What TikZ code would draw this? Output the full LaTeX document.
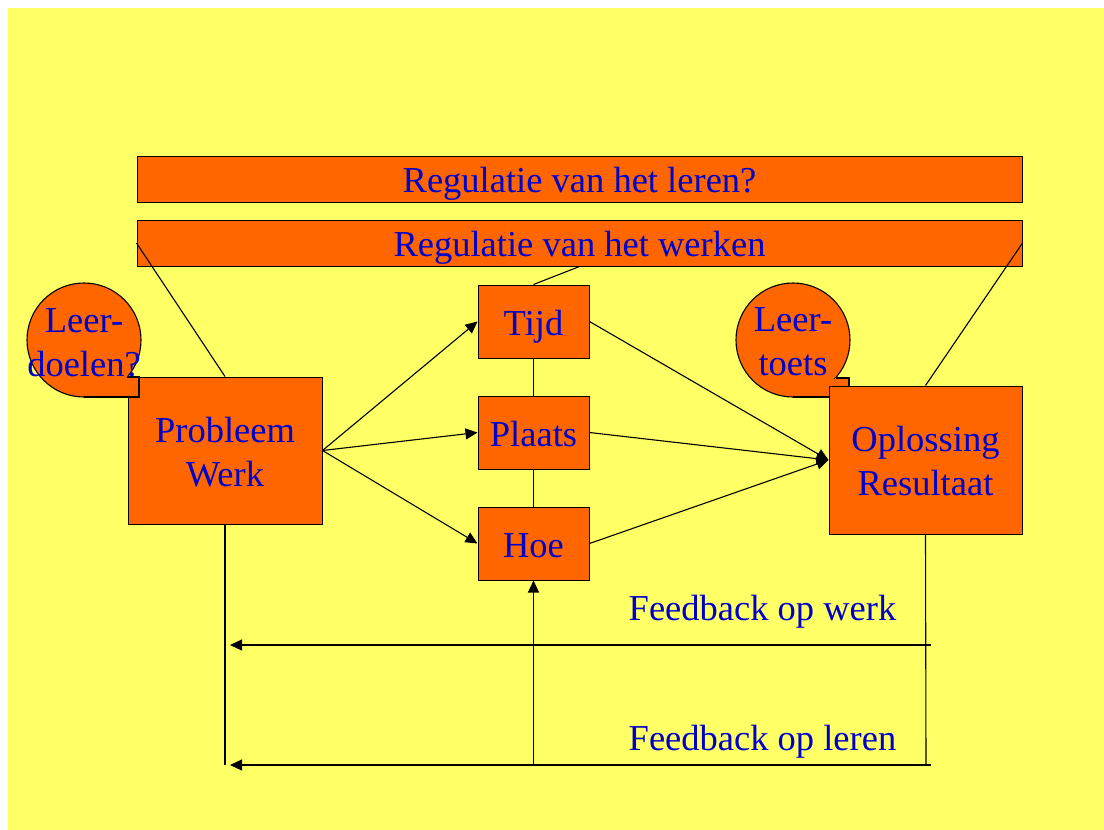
\documentclass[tikz,border=0pt]{standalone}
\usepackage{fontspec}
\setmainfont{Liberation Serif}
\usetikzlibrary{arrows.meta}
\definecolor{bgyellow}{HTML}{FFFF66}
\definecolor{boxorange}{HTML}{FF6600}
\definecolor{txtblue}{HTML}{0000CC}
\begin{document}
\begin{tikzpicture}[x=1pt,y=-1pt,
  every node/.style={font=\fontsize{36.5}{44}\selectfont, text=txtblue, align=center, inner sep=0pt},
  obox/.style={draw=black, line width=1pt, fill=boxorange},
  oneline/.style={text height=33pt, text depth=6pt},
  conn/.style={draw=black, line width=1.1pt},
  arr/.style={conn, -{Triangle[length=12pt,width=11pt]}},
  bubble/.style={draw=black, line width=1.1pt, fill=boxorange}]
\useasboundingbox (0,0) rectangle (1104,830);
\fill[white] (0,0) rectangle (1104,830);
\fill[bgyellow] (8,8) rectangle (1104,830);
% bars
\node[obox, oneline, minimum width=885pt, minimum height=46pt] (bar1) at (579.5,179) {Regulatie van het leren?};
\node[obox, oneline, minimum width=885pt, minimum height=46pt] (bar2) at (579.5,243) {Regulatie van het werken};
% leertoets bubble (behind box)
\draw[bubble] (793,340) circle[radius=57];
\fill[boxorange] (836,378) -- (849,378) -- (849,397) -- (793,397) -- cycle;
\draw[conn] (836,378) -- (849,378) -- (849,397) -- (793,397);
% main boxes
\node[obox, minimum width=194pt, minimum height=147pt] (pb) at (225,450.5) {};
\node[anchor=base] (pbt) at (225,486) {Probleem\\Werk};
\node[obox, minimum width=193pt, minimum height=148pt] (os) at (925.5,460) {};
\node[anchor=base] (ost) at (925.5,495) {Oplossing\\Resultaat};
\node[anchor=base] (lt) at (793,375) {Leer-\\toets};
\node[obox, oneline, minimum width=111pt, minimum height=73pt] (tijd) at (533.5,321.5) {Tijd};
\node[obox, oneline, minimum width=111pt, minimum height=73pt] (plaats) at (533.5,432.5) {Plaats};
\node[obox, oneline, minimum width=111pt, minimum height=73pt] (hoe) at (533.5,543.5) {Hoe};
% leerdoelen bubble (in front of box)
\draw[bubble] (84,340) circle[radius=57];
\fill[boxorange] (127,377) -- (139,377) -- (139,397) -- (84,397) -- cycle;
\draw[conn] (127,377) -- (139,377) -- (139,397) -- (84,397);
\node[anchor=base] (ld) at (84,376) {Leer-\\doelen?};
% regulation lines
\draw[conn] (bar2.west) -- (pb.north);
\draw[conn] (bar2.east) -- (os.north);
\draw[conn] (bar2.south) -- (tijd.north);
\draw[conn] (tijd.south) -- (plaats.north);
\draw[conn] (plaats.south) -- (hoe.north);
% arrows
\draw[arr] (pb.east) -- (tijd.west);
\draw[arr] (pb.east) -- (plaats.west);
\draw[arr] (pb.east) -- (hoe.west);
\draw[arr] (tijd.east) -- (os.west);
\draw[arr] (plaats.east) -- (os.west);
\draw[arr] (hoe.east) -- (os.west);
% feedback
\coordinate (pbBot) at (225,765);
\coordinate (osBot) at (926,765);
\coordinate (fwR) at (931,645);
\coordinate (fwL) at (230,645);
\coordinate (flR) at (931,765);
\coordinate (flL) at (230,765);
\coordinate (hoeBot) at (533.5,765);
\draw[conn] (pb.south) -- (pbBot);
\draw[conn] (os.south) -- (osBot);
\draw[arr] (fwR) -- (fwL);
\draw[arr] (flR) -- (flL);
\draw[arr] (hoeBot) -- (hoe.south);
\node[anchor=base] (fw) at (762.5,620) {Feedback op werk};
\node[anchor=base] (fl) at (762.5,750) {Feedback op leren};
\end{tikzpicture}
\end{document}
